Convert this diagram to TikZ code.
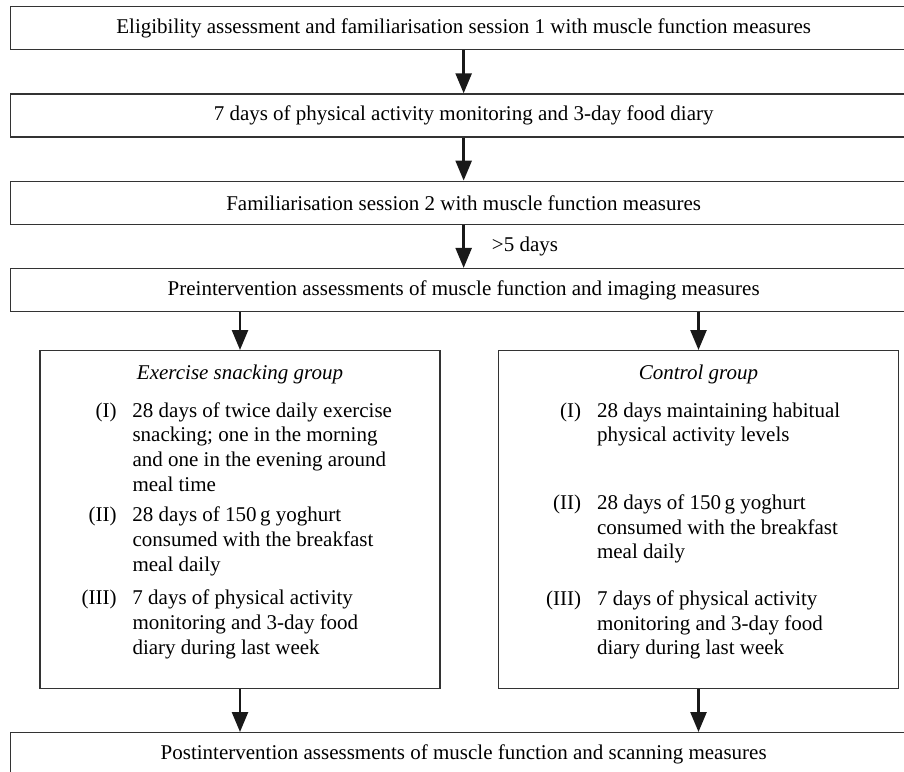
\documentclass[tikz,border=0pt]{standalone}
\usepackage{fontspec}
\setmainfont{Liberation Serif}
\usepackage{tikz}
\usetikzlibrary{arrows.meta}
\usetikzlibrary{positioning}
\begin{document}
\begin{tikzpicture}[x=1pt,y=-1pt,font=\fontsize{21}{24.7}\selectfont,
    wide/.style={draw=black!80,line width=1.3pt,minimum width=906pt,minimum height=43pt,inner sep=0pt},
    grp/.style={draw=black!80,line width=1.3pt,minimum width=400pt,minimum height=338pt,inner sep=0pt},
    grptitle/.style={anchor=base,inner sep=0pt,font=\fontsize{21}{24.7}\selectfont\itshape},
    items/.style={anchor=base west,inner sep=0pt},
    arr/.style={draw=black!90,line width=2.5pt,-{Triangle[length=20pt,width=16pt]}}]
    \useasboundingbox (0,0) rectangle (904,771);
    \node[wide,anchor=north west] (elig) at (10,6) {Eligibility assessment and familiarisation session 1 with muscle function measures};
    \node[wide,below=43pt of elig] (diary) {7 days of physical activity monitoring and 3-day food diary};
    \node[wide,below=43pt of diary] (fam) {Familiarisation session 2 with muscle function measures};
    \node[wide,below=43pt of fam] (pre) {Preintervention assessments of muscle function and imaging measures};
    \node[grp,anchor=north] (esg) at (240,350) {};
    \node[grp,anchor=north] (ctl) at (698.5,350) {};
    \node[wide,anchor=north west] (post) at (10,732) {Postintervention assessments of muscle function and scanning measures};
    \node[grptitle] (esghead) at ([yshift=-29pt]esg.north) {Exercise snacking group};
    \node[grptitle] (ctlhead) at ([yshift=-29pt]ctl.north) {Control group};
    \node[items] (esgitems) at ([xshift=42pt,yshift=-67pt]esg.north west) {%
      \begin{tabular}[t]{@{}r@{\hspace{16pt}}l@{}}
        (I) & 28 days of twice daily exercise\\
            & snacking; one in the morning\\
            & and one in the evening around\\
            & meal time\\[6pt]
        (II) & 28 days of 150\,g yoghurt\\
             & consumed with the breakfast\\
             & meal daily\\[9pt]
        (III) & 7 days of physical activity\\
              & monitoring and 3-day food\\
              & diary during last week
      \end{tabular}};
    \node[items] (ctlitems) at ([xshift=48pt,yshift=-67pt]ctl.north west) {%
      \begin{tabular}[t]{@{}r@{\hspace{16pt}}l@{}}
        (I) & 28 days maintaining habitual\\
            & physical activity levels\\[43pt]
        (II) & 28 days of 150\,g yoghurt\\
             & consumed with the breakfast\\
             & meal daily\\[22pt]
        (III) & 7 days of physical activity\\
              & monitoring and 3-day food\\
              & diary during last week
      \end{tabular}};
    \draw[arr] (elig) -- (diary);
    \draw[arr] (diary) -- (fam);
    \draw[arr] (fam) -- (pre) node[midway,right=27pt,inner sep=0pt] (gap) {>5 days};
    \draw[arr] (pre.south -| esg) -- (esg);
    \draw[arr] (pre.south -| ctl) -- (ctl);
    \draw[arr] (esg) -- (esg |- post.north);
    \draw[arr] (ctl) -- (ctl |- post.north);
\end{tikzpicture}
\end{document}
